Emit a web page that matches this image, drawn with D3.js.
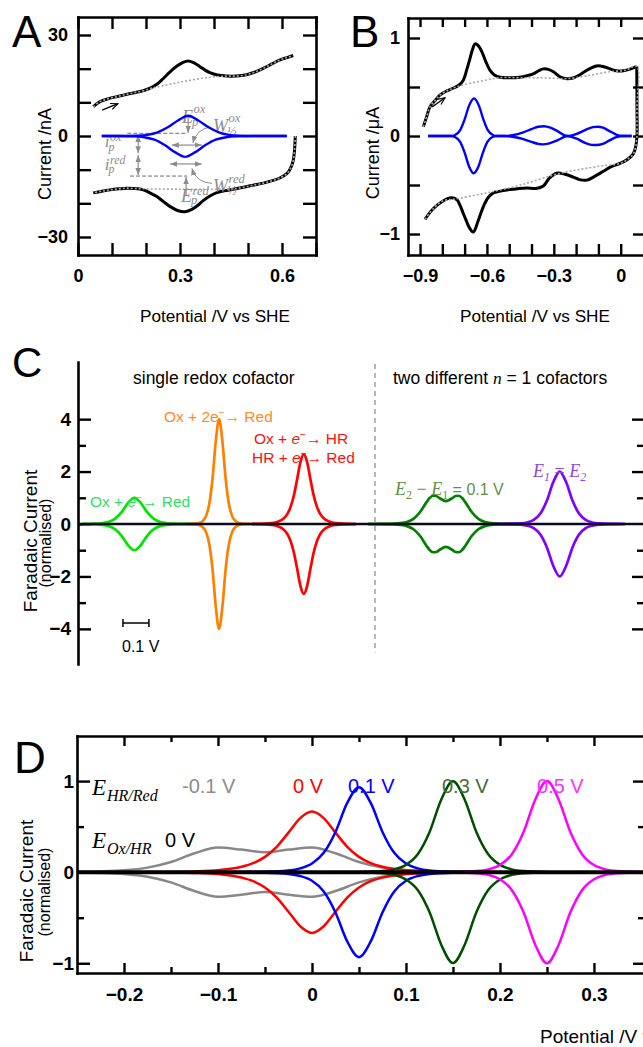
<!DOCTYPE html>
<html>
<head>
<meta charset="utf-8">
<script src="https://cdn.jsdelivr.net/npm/d3@7"></script>
<style>
body { margin: 0; background: #fff; }
svg { display: block; }
</style>
</head>
<body>
<script>
/******* DATA *******/
// A: protein film voltammogram (V, nA)
var aForward = [[0.045,8.7],[0.065,10.2],[0.09,11.1],[0.114,11.7],[0.14,12.3],[0.162,12.8],[0.19,13.4],[0.212,14.2],[0.235,15.6],[0.25,17.0],[0.27,19.0],[0.29,20.7],[0.308,21.8],[0.324,22.3],[0.34,21.8],[0.359,20.6],[0.375,19.5],[0.388,18.8],[0.41,18.1],[0.437,17.8],[0.465,17.8],[0.496,18.2],[0.52,19.0],[0.545,20.1],[0.57,21.4],[0.594,22.6],[0.615,23.3],[0.633,23.9]];
var aReverse = [[0.639,0],[0.637,-4],[0.633,-7.3],[0.624,-9.8],[0.614,-11.2],[0.595,-12.4],[0.574,-13.2],[0.545,-14.0],[0.516,-14.6],[0.487,-15.2],[0.457,-15.8],[0.43,-16.3],[0.408,-16.8],[0.388,-17.8],[0.368,-19.2],[0.35,-20.8],[0.335,-21.8],[0.315,-22.5],[0.295,-22.2],[0.27,-20.9],[0.25,-19.4],[0.232,-18.0],[0.21,-16.8],[0.192,-16.0],[0.165,-15.6],[0.143,-15.5],[0.12,-15.7],[0.094,-16.0],[0.07,-16.4],[0.045,-16.9]];
var aBaseFwd = [[0.045,8.7],[0.065,10.2],[0.09,11.1],[0.114,11.7],[0.14,12.3],[0.162,12.8],[0.19,13.4],[0.212,14.1],[0.231,14.5],[0.3,16.0],[0.378,17.3],[0.437,17.8],[0.465,17.8],[0.496,18.2],[0.52,19.0],[0.545,20.1],[0.57,21.4],[0.594,22.6],[0.615,23.3],[0.633,23.9]];
var aBaseRev = [[0.639,0],[0.637,-4],[0.633,-7.3],[0.624,-9.8],[0.614,-11.2],[0.595,-12.4],[0.574,-13.2],[0.545,-14.0],[0.516,-14.6],[0.487,-15.2],[0.457,-15.7],[0.4,-15.8],[0.3,-15.8],[0.2,-15.7],[0.165,-15.6],[0.143,-15.5],[0.12,-15.7],[0.094,-16.0],[0.07,-16.4],[0.045,-16.9]];
var aSignalOx = [[0.07,0],[0.124,0],[0.174,0.08],[0.204,0.35],[0.234,1.1],[0.264,2.6],[0.294,4.6],[0.324,6.0],[0.354,4.6],[0.384,2.6],[0.414,1.1],[0.444,0.35],[0.474,0.08],[0.524,0],[0.614,0]];
var aSignalRed = [[0.07,0],[0.115,0],[0.165,-0.08],[0.195,-0.36],[0.225,-1.1],[0.255,-2.7],[0.285,-4.8],[0.315,-6.2],[0.345,-4.8],[0.375,-2.7],[0.405,-1.1],[0.435,-0.36],[0.465,-0.08],[0.515,0],[0.614,0]];

// B: multi-centre enzyme film (V, uA)
var bForward = [[-0.885,0.095],[-0.87,0.2],[-0.855,0.30],[-0.83,0.37],[-0.81,0.42],[-0.78,0.46],[-0.75,0.49],[-0.725,0.52],[-0.706,0.57],[-0.69,0.68],[-0.676,0.79],[-0.665,0.88],[-0.653,0.94],[-0.638,0.92],[-0.623,0.86],[-0.605,0.76],[-0.586,0.67],[-0.565,0.62],[-0.541,0.60],[-0.5,0.595],[-0.452,0.60],[-0.42,0.615],[-0.392,0.635],[-0.365,0.67],[-0.347,0.685],[-0.325,0.68],[-0.302,0.655],[-0.27,0.60],[-0.242,0.585],[-0.21,0.595],[-0.183,0.625],[-0.145,0.68],[-0.108,0.715],[-0.08,0.71],[-0.048,0.685],[-0.02,0.665],[0.012,0.665],[0.045,0.685],[0.072,0.71]];
var bReverse = [[0.072,0.71],[0.073,0.3],[0.073,0],[0.068,-0.1],[0.057,-0.18],[0.03,-0.24],[-0.003,-0.28],[-0.04,-0.31],[-0.078,-0.36],[-0.115,-0.41],[-0.152,-0.45],[-0.185,-0.445],[-0.212,-0.42],[-0.25,-0.39],[-0.287,-0.38],[-0.32,-0.43],[-0.347,-0.51],[-0.38,-0.535],[-0.422,-0.53],[-0.47,-0.54],[-0.511,-0.55],[-0.545,-0.565],[-0.571,-0.58],[-0.595,-0.63],[-0.616,-0.72],[-0.64,-0.87],[-0.661,-0.98],[-0.68,-0.93],[-0.695,-0.85],[-0.706,-0.79],[-0.72,-0.71],[-0.735,-0.65],[-0.76,-0.63],[-0.795,-0.66],[-0.84,-0.74],[-0.878,-0.85]];
var bBaseFwd = [[-0.885,0.095],[-0.87,0.2],[-0.855,0.30],[-0.83,0.37],[-0.81,0.42],[-0.78,0.46],[-0.75,0.49],[-0.7,0.525],[-0.6,0.572],[-0.541,0.595],[-0.45,0.595],[-0.3,0.59],[-0.242,0.585],[-0.15,0.615],[-0.05,0.655],[0.02,0.67],[0.072,0.71],[0.073,0.3],[0.073,0]];
var bBaseRev = [[0.073,0],[0.068,-0.1],[0.057,-0.18],[0.03,-0.24],[-0.003,-0.28],[-0.1,-0.31],[-0.27,-0.38],[-0.45,-0.5],[-0.6,-0.58],[-0.75,-0.645],[-0.795,-0.66],[-0.84,-0.74],[-0.878,-0.85]];
var bSignalOx = [[-0.864,0],[-0.76,0],[-0.743,0.01],[-0.72,0.06],[-0.70,0.17],[-0.68,0.31],[-0.658,0.384],[-0.636,0.31],[-0.616,0.17],[-0.596,0.06],[-0.573,0.01],[-0.556,0],[-0.52,0],[-0.48,0.01],[-0.44,0.035],[-0.40,0.07],[-0.37,0.095],[-0.344,0.10],[-0.315,0.085],[-0.28,0.045],[-0.24,0],[-0.2,0.02],[-0.16,0.06],[-0.125,0.09],[-0.102,0.095],[-0.08,0.085],[-0.05,0.05],[-0.02,0.015],[0,0.002],[0.049,0]];
var bSignalRed = [[-0.864,0],[-0.76,0],[-0.743,-0.01],[-0.72,-0.06],[-0.70,-0.17],[-0.68,-0.31],[-0.66,-0.38],[-0.638,-0.31],[-0.618,-0.17],[-0.598,-0.06],[-0.575,-0.01],[-0.556,0],[-0.52,0],[-0.48,-0.01],[-0.44,-0.03],[-0.40,-0.06],[-0.37,-0.08],[-0.35,-0.085],[-0.32,-0.075],[-0.28,-0.04],[-0.24,0],[-0.2,-0.025],[-0.16,-0.07],[-0.13,-0.09],[-0.11,-0.092],[-0.08,-0.08],[-0.05,-0.045],[-0.02,-0.012],[0,-0.002],[0.049,0]];

// C: simulated peaks, [offset from centre /V, normalised current]; reductive half mirrors these
var cCentres = [0.217, 0.543, 0.869, 1.416, 1.854];
var cGreen = [[-0.2,0.002],[-0.15,0.012],[-0.125,0.03],[-0.1,0.078],[-0.075,0.195],[-0.05,0.44],[-0.025,0.8],[0,1],[0.025,0.8],[0.05,0.44],[0.075,0.195],[0.1,0.078],[0.125,0.03],[0.15,0.012],[0.2,0.002],[0.25,0]];
var cOrange = [[-0.125,0],[-0.1,0.006],[-0.075,0.046],[-0.0625,0.12],[-0.05,0.31],[-0.0375,0.78],[-0.025,1.75],[-0.0125,3.18],[0,4],[0.0125,3.18],[0.025,1.75],[0.0375,0.78],[0.05,0.31],[0.0625,0.12],[0.075,0.046],[0.1,0.006],[0.125,0]];
var cRed = [[-0.2,0.001],[-0.15,0.012],[-0.125,0.031],[-0.1,0.085],[-0.075,0.236],[-0.0625,0.398],[-0.05,0.672],[-0.0375,1.114],[-0.025,1.736],[-0.0125,2.376],[0,2.667],[0.0125,2.376],[0.025,1.736],[0.0375,1.114],[0.05,0.672],[0.0625,0.398],[0.075,0.236],[0.1,0.085],[0.125,0.031],[0.15,0.012],[0.2,0.001]];
var cDkGreen = [[-0.3,0],[-0.25,0.002],[-0.2,0.012],[-0.175,0.031],[-0.15,0.08],[-0.125,0.199],[-0.1,0.449],[-0.075,0.826],[-0.0625,0.992],[-0.05,1.078],[-0.0375,1.067],[-0.025,0.991],[0,0.875],[0.025,0.991],[0.0375,1.067],[0.05,1.078],[0.0625,0.992],[0.075,0.826],[0.1,0.449],[0.125,0.199],[0.15,0.08],[0.175,0.031],[0.2,0.012],[0.25,0.002],[0.3,0]];
var cPurple = [[-0.25,0],[-0.2,0.003],[-0.15,0.023],[-0.125,0.06],[-0.1,0.156],[-0.075,0.39],[-0.05,0.875],[-0.025,1.59],[0,2],[0.025,1.59],[0.05,0.875],[0.075,0.39],[0.1,0.156],[0.125,0.06],[0.15,0.023],[0.2,0.003],[0.25,0]];

// D: two-step couple, E(Ox/HR) = 0 V, E(HR/Red) varied; [V, normalised current]
var dLabels = ["-0.1 V", "0 V", "0.1 V", "0.3 V", "0.5 V"];
var dGrey = [[-0.25,0.003],[-0.225,0.008],[-0.2,0.02],[-0.175,0.05],[-0.15,0.112],[-0.125,0.207],[-0.1,0.27],[-0.075,0.248],[-0.05,0.219],[-0.025,0.248],[0,0.27],[0.025,0.207],[0.05,0.112],[0.075,0.05],[0.1,0.02],[0.125,0.008],[0.15,0.003],[0.2,0]];
var dRed = [[-0.2,0],[-0.15,0.003],[-0.125,0.008],[-0.1,0.021],[-0.075,0.059],[-0.0625,0.099],[-0.05,0.168],[-0.0375,0.279],[-0.025,0.434],[-0.0125,0.594],[0,0.667],[0.0125,0.594],[0.025,0.434],[0.0375,0.279],[0.05,0.168],[0.0625,0.099],[0.075,0.059],[0.1,0.021],[0.125,0.008],[0.15,0.003],[0.2,0]];
var dBlue = [[-0.1,0],[-0.05,0.005],[-0.025,0.019],[-0.0125,0.042],[0,0.095],[0.0125,0.212],[0.025,0.442],[0.0375,0.76],[0.05,0.933],[0.0625,0.76],[0.075,0.442],[0.0875,0.212],[0.1,0.095],[0.1125,0.042],[0.125,0.019],[0.15,0.005],[0.2,0]];
var dDkGreen = [[0.05,0.002],[0.075,0.012],[0.0875,0.03],[0.1,0.08],[0.1125,0.196],[0.125,0.438],[0.1375,0.796],[0.15,0.998],[0.1625,0.796],[0.175,0.438],[0.1875,0.196],[0.2,0.08],[0.2125,0.03],[0.225,0.012],[0.25,0.002]];
var dMagenta = [[0.15,0.002],[0.175,0.012],[0.1875,0.03],[0.2,0.078],[0.2125,0.195],[0.225,0.438],[0.2375,0.796],[0.25,1.0],[0.2625,0.796],[0.275,0.438],[0.2875,0.195],[0.3,0.078],[0.3125,0.03],[0.325,0.012],[0.35,0.002]];

/******* SETUP *******/
var SANS = '"Liberation Sans", Arial, Helvetica, sans-serif';
var SERIF = '"Liberation Serif", "Times New Roman", serif';
var fmt = d3.format(".1~f");

var svg = d3.select("body").append("svg")
    .attr("width", 643)
    .attr("height", 1047)
    .attr("font-family", SANS);

var defs = svg.append("defs");
function marker(id, colour, open) {
  defs.append("marker")
      .attr("id", id)
      .attr("viewBox", "0 0 10 10")
      .attr("refX", open ? 9 : 10).attr("refY", 5)
      .attr("markerUnits", "userSpaceOnUse")
      .attr("markerWidth", open ? 9 : 7).attr("markerHeight", open ? 9 : 7)
      .attr("orient", "auto-start-reverse")
    .append("path")
      .attr("d", open ? "M1,1.5 L9,5 L1,8.5" : "M0,1 L10,5 L0,9 Z")
      .attr("fill", open ? "none" : colour)
      .attr("stroke", colour)
      .attr("stroke-width", open ? 1.3 : 0);
}
marker("ahGrey", "#8c8c8c", false);
marker("ahBlack", "#000", true);

// inward ticks; labels only on the listed values
function ax(g, gen, tr, vals, size, labels, pad, fs, keepDomain) {
  var a = g.append("g").attr("transform", tr)
      .call(gen.tickValues(vals).tickSizeInner(size).tickSizeOuter(0).tickPadding(pad)
        .tickFormat(function(d) {
          return labels && labels.some(function(v) { return Math.abs(v - d) < 1e-6; }) ? fmt(d) : "";
        }));
  a.attr("font-family", SANS).attr("font-size", fs).attr("font-weight", "bold");
  a.selectAll(".tick line").attr("stroke-width", 2.4);
  a.selectAll(".tick text").attr("fill", "#000");
  if (keepDomain) a.select(".domain").attr("stroke-width", 2.6).attr("stroke-linecap", "square");
  else a.select(".domain").remove();
  return a;
}

function label(g, x, y, txt, fs, opts) {
  opts = opts || {};
  var t = g.append("text").attr("x", x).attr("y", y).attr("font-size", fs)
      .attr("fill", opts.fill || "#000").text(txt);
  if (opts.rotate) t.attr("transform", "rotate(-90," + x + "," + y + ")").attr("text-anchor", "middle");
  if (opts.anchor) t.attr("text-anchor", opts.anchor);
  if (opts.weight) t.attr("font-weight", opts.weight);
  return t;
}

// italic symbol with super- and subscript
function sym(g, x, y, base, sup, sub, fs, colour, supDy, subDy) {
  var t = g.append("text").attr("x", x).attr("y", y)
      .attr("font-family", SERIF).attr("font-style", "italic")
      .attr("font-size", fs).attr("fill", colour).text(base);
  var w = t.node().getComputedTextLength();
  if (sup) g.append("text").attr("x", x + w + 0.5).attr("y", y + supDy)
      .attr("font-family", SERIF).attr("font-style", "italic")
      .attr("font-size", fs * 0.7).attr("fill", colour).text(sup);
  if (sub) g.append("text").attr("x", x + w - 1).attr("y", y + subDy)
      .attr("font-family", SERIF).attr("font-style", "italic")
      .attr("font-size", fs * 0.7).attr("fill", colour).text(sub);
}

/******* PANEL A *******/
var xA = d3.scaleLinear().domain([0, 0.7]).range([78, 316]);
var yA = d3.scaleLinear().domain([-35.35, 35.35]).range([255, 17]);
var gA = svg.append("g");
var lineA = d3.line().x(function(d) { return xA(d[0]); }).y(function(d) { return yA(d[1]); })
    .curve(d3.curveCatmullRom.alpha(0.5));
var peakA = d3.line().x(function(d) { return xA(d[0]); }).y(function(d) { return yA(d[1]); })
    .curve(d3.curveMonotoneX);

var aXT = d3.range(0, 0.75, 0.1), aYT = d3.range(-30, 31, 10);
ax(gA, d3.axisBottom(xA), "translate(0,255)", aXT, -12, [0, 0.3, 0.6], 14, 18, true);
ax(gA, d3.axisTop(xA), "translate(0,17)", aXT, -12, null, 0, 18, true);
ax(gA, d3.axisLeft(yA), "translate(78,0)", aYT, -13, [-30, 0, 30], 10, 18, true);
ax(gA, d3.axisRight(yA), "translate(316,0)", aYT, -13, null, 0, 18, true);

[aForward, aReverse].forEach(function(s) {
  gA.append("path").datum(s).attr("d", lineA).attr("fill", "none").attr("stroke", "#000").attr("stroke-width", 3);
});
[aBaseFwd, aBaseRev].forEach(function(s) {
  gA.append("path").datum(s).attr("d", lineA).attr("fill", "none").attr("stroke", "#a8a8a8")
    .attr("stroke-width", 1.6).attr("stroke-dasharray", "2,2");
});

// annotations
var grey = "#8c8c8c";
function gline(g, x1, y1, x2, y2, dash, both) {
  var l = g.append("line").attr("x1", x1).attr("y1", y1).attr("x2", x2).attr("y2", y2)
      .attr("stroke", grey).attr("stroke-width", 1.2);
  if (dash) l.attr("stroke-dasharray", "4,2").attr("stroke", "#707070").attr("stroke-width", 1);
  else {
    l.attr("marker-end", "url(#ahGrey)");
    if (both) l.attr("marker-start", "url(#ahGrey)");
  }
}
gline(gA, xA(0.145), yA(0.8), xA(0.322), yA(0.8), true);
gline(gA, xA(0.153), yA(-11.9), xA(0.321), yA(-11.9), true);
gline(gA, xA(0.324), yA(5.8), xA(0.324), yA(1.0));
gline(gA, xA(0.318), yA(-17.5), xA(0.318), yA(-12.2));
gline(gA, xA(0.276), yA(-2.7), xA(0.364), yA(-2.7), false, true);
gline(gA, xA(0.271), yA(-8.3), xA(0.364), yA(-8.3), false, true);
gline(gA, xA(0.177), yA(0.3), xA(0.177), yA(-5.1), false, true);
gline(gA, xA(0.177), yA(-5.7), xA(0.177), yA(-11.6), false, true);
gA.append("path")
    .attr("d", "M" + xA(0.388) + "," + yA(2.7) + " Q" + xA(0.347) + "," + yA(1.8) + " " + xA(0.338) + "," + yA(-2.1))
    .attr("fill", "none").attr("stroke", grey).attr("stroke-width", 1).attr("marker-end", "url(#ahGrey)");
gA.append("path")
    .attr("d", "M" + xA(0.394) + "," + yA(-14.1) + " Q" + xA(0.347) + "," + yA(-13.8) + " " + xA(0.335) + "," + yA(-9.6))
    .attr("fill", "none").attr("stroke", grey).attr("stroke-width", 1).attr("marker-end", "url(#ahGrey)");
sym(gA, xA(0.306), yA(3.95), "E", "ox", "p", 18, grey, -10, 3);
sym(gA, xA(0.397), yA(1.19), "W", "ox", "\u00bd", 18, grey, -10, 4);
sym(gA, xA(0.079), yA(-3.27), "i", "ox", "p", 17, grey, -6, 4);
sym(gA, xA(0.079), yA(-10.1), "i", "red", "p", 17, grey, -6, 3);
sym(gA, xA(0.397), yA(-16.6), "W", "red", "\u00bd", 18, grey, -9, 3);
sym(gA, xA(0.303), yA(-19.6), "E", "red", "p", 18, grey, -7, 2);

[aSignalOx, aSignalRed].forEach(function(s) {
  gA.append("path").datum(s).attr("d", peakA).attr("fill", "none").attr("stroke", "#0000ff").attr("stroke-width", 2.4);
});
gA.append("line").attr("x1", xA(0.071)).attr("y1", yA(7.7)).attr("x2", xA(0.117)).attr("y2", yA(9.6))
    .attr("stroke", "#000").attr("stroke-width", 1.4).attr("marker-end", "url(#ahBlack)");

label(gA, 12, 47, "A", 44);
label(gA, 51, 154, "Current /nA", 18, { rotate: true });
label(gA, 140, 322, "Potential /V vs SHE", 17.2);

/******* PANEL B *******/
var xB = d3.scaleLinear().domain([-0.954, 0.109]).range([408, 645]);
var yB = d3.scaleLinear().domain([-1.214, 1.204]).range([255, 18]);
var gB = svg.append("g");
var lineB = d3.line().x(function(d) { return xB(d[0]); }).y(function(d) { return yB(d[1]); })
    .curve(d3.curveCatmullRom.alpha(0.5));
var peakB = d3.line().x(function(d) { return xB(d[0]); }).y(function(d) { return yB(d[1]); })
    .curve(d3.curveMonotoneX);

var bXT = d3.range(-0.9, 0.05, 0.1), bYT = [-1, -0.5, 0, 0.5, 1];
ax(gB, d3.axisBottom(xB), "translate(0,255)", bXT, -11, [-0.9, -0.6, -0.3, 0], 14, 18, true);
ax(gB, d3.axisTop(xB), "translate(0,18)", bXT, -9, null, 0, 18, true);
ax(gB, d3.axisLeft(yB), "translate(408,0)", bYT, -12, [-1, 0, 1], 8, 18, true);
ax(gB, d3.axisRight(yB), "translate(645,0)", bYT, -12, null, 0, 18, true);

[bForward, bReverse].forEach(function(s) {
  gB.append("path").datum(s).attr("d", lineB).attr("fill", "none").attr("stroke", "#000").attr("stroke-width", 3);
});
[bBaseFwd, bBaseRev].forEach(function(s) {
  gB.append("path").datum(s).attr("d", lineB).attr("fill", "none").attr("stroke", "#a8a8a8")
    .attr("stroke-width", 1.6).attr("stroke-dasharray", "2,2");
});
[bSignalOx, bSignalRed].forEach(function(s) {
  gB.append("path").datum(s).attr("d", peakB).attr("fill", "none").attr("stroke", "#0000ff").attr("stroke-width", 2.4);
});
gB.append("line").attr("x1", xB(-0.846)).attr("y1", yB(0.296)).attr("x2", xB(-0.788)).attr("y2", yB(0.39))
    .attr("stroke", "#000").attr("stroke-width", 1.4).attr("marker-end", "url(#ahBlack)");

label(gB, 350, 47, "B", 44);
label(gB, 379, 153, "Current /\u03bcA", 18, { rotate: true });
label(gB, 460, 322, "Potential /V vs SHE", 17.2);

/******* PANEL C *******/
var xC = d3.scaleLinear().domain([0, 2.19]).range([78, 647]);
var yC = d3.scaleLinear().domain([-5.34, 6.18]).range([664, 362]);
var gC = svg.append("g");

ax(gC, d3.axisLeft(yC), "translate(78,0)", [-4, -2, 0, 2, 4], -13, [-4, -2, 0, 2, 4], 7, 19, true);
ax(gC, d3.axisLeft(yC), "translate(78,0)", [-3, -1, 1, 3], -8, null, 7, 19, false);
ax(gC, d3.axisRight(yC), "translate(644,0)", [-4, -2, 2, 4], -12, null, 0, 19, false);
ax(gC, d3.axisRight(yC), "translate(644,0)", [-3, -1, 1, 3], -7, null, 0, 19, false);

gC.append("line").attr("x1", 375).attr("x2", 375).attr("y1", yC(6.1)).attr("y2", yC(-4.9))
    .attr("stroke", "#a0a0a0").attr("stroke-width", 1.5).attr("stroke-dasharray", "5,4");

var cCurves = [cGreen, cOrange, cRed, cDkGreen, cPurple];
var cColours = ["#00e400", "#ff8000", "#ff0000", "#008000", "#8000ff"];
cCurves.forEach(function(s, i) {
  [1, -1].forEach(function(sign) {
    gC.append("path").datum(s)
        .attr("d", d3.line()
          .x(function(d) { return xC(cCentres[i] + d[0]); })
          .y(function(d) { return yC(sign * d[1]); })
          .curve(d3.curveMonotoneX))
        .attr("fill", "none").attr("stroke", cColours[i]).attr("stroke-width", 2.7);
  });
});
gC.append("line").attr("x1", 78).attr("x2", 643).attr("y1", yC(0)).attr("y2", yC(0))
    .attr("stroke", "#0a0a1e").attr("stroke-width", 2.6);

// scale bar
var sb = gC.append("g").attr("stroke", "#000").attr("stroke-width", 1.5);
sb.append("line").attr("x1", xC(0.173)).attr("x2", xC(0.273)).attr("y1", 623).attr("y2", 623);
sb.append("line").attr("x1", xC(0.173)).attr("x2", xC(0.173)).attr("y1", 619).attr("y2", 627);
sb.append("line").attr("x1", xC(0.273)).attr("x2", xC(0.273)).attr("y1", 619).attr("y2", 627);
label(gC, 122, 652, "0.1 V", 16);

label(gC, 12, 377, "C", 42);
label(gC, 37, 541, "Faradaic Current", 19, { rotate: true });
label(gC, 51, 543, "(normalised)", 16, { rotate: true });
label(gC, 133, 384, "single redox cofactor", 17.5);

var t2 = gC.append("text").attr("x", 393).attr("y", 384).attr("font-size", 17.5);
t2.append("tspan").text("two different ");
t2.append("tspan").attr("font-family", SERIF).attr("font-style", "italic").text("n");
t2.append("tspan").text(" = 1 cofactors");

function reaction(x, y, parts, colour) {
  var t = gC.append("text").attr("x", x).attr("y", y).attr("font-size", 15.5).attr("fill", colour);
  parts.forEach(function(p) {
    var s = t.append("tspan").text(p[0]);
    if (p[1] === "i") s.attr("font-style", "italic");
    if (p[1] === "sup") s.attr("font-size", 10).attr("dy", -6);
    if (p[1] === "down") s.attr("dy", 6);
  });
}
reaction(90, 507, [["Ox + "], ["e", "i"], ["\u2212", "sup"], ["\u2192 Red", "down"]], "#30e060");
reaction(164, 422, [["Ox + 2e"], ["\u2212", "sup"], ["\u2192 Red", "down"]], "#ff8a2a");
reaction(254, 444, [["Ox + "], ["e", "i"], ["\u2212", "sup"], ["\u2192 HR", "down"]], "#ff1010");
reaction(252, 463, [["HR + "], ["e", "i"], ["\u2212", "sup"], ["\u2192 Red", "down"]], "#ff1010");

var tE = gC.append("text").attr("x", 395).attr("y", 495).attr("font-size", 16).attr("fill", "#5f8f48");
tE.append("tspan").attr("font-family", SERIF).attr("font-style", "italic").attr("font-size", 18).text("E");
tE.append("tspan").attr("font-family", SERIF).attr("font-size", 12).attr("dy", 4).text("2");
tE.append("tspan").attr("font-family", SERIF).attr("font-size", 18).attr("dy", -4).text(" \u2212 ");
tE.append("tspan").attr("font-family", SERIF).attr("font-style", "italic").attr("font-size", 18).text("E");
tE.append("tspan").attr("font-family", SERIF).attr("font-size", 12).attr("dy", 4).text("1");
tE.append("tspan").attr("dy", -4).text(" = 0.1 V");

var tP = gC.append("text").attr("x", 533).attr("y", 477).attr("font-size", 18).attr("fill", "#8a4ad8")
    .attr("font-family", SERIF).attr("font-style", "italic");
tP.append("tspan").text("E");
tP.append("tspan").attr("font-size", 12).attr("dy", 4).text("1");
tP.append("tspan").attr("dy", -4).attr("font-style", "normal").text(" = ");
tP.append("tspan").text("E");
tP.append("tspan").attr("font-size", 12).attr("dy", 4).text("2");

/******* PANEL D *******/
var xD = d3.scaleLinear().domain([-0.25, 0.3543]).range([77, 645]);
var yD = d3.scaleLinear().domain([-1.107, 1.495]).range([973, 736]);
var gD = svg.append("g");

var dMaj = [-0.2, -0.1, 0, 0.1, 0.2, 0.3], dMin = [-0.15, -0.05, 0.05, 0.15, 0.25];
ax(gD, d3.axisBottom(xD), "translate(0,973)", dMaj, -10, dMaj, 14.5, 19, true);
ax(gD, d3.axisBottom(xD), "translate(0,973)", dMin, -6, null, 0, 19, false);
ax(gD, d3.axisTop(xD), "translate(0,736)", dMaj, -10, null, 0, 19, true);
ax(gD, d3.axisTop(xD), "translate(0,736)", dMin, -6, null, 0, 19, false);
ax(gD, d3.axisLeft(yD), "translate(77,0)", [-1, 0, 1], -13, [-1, 0, 1], 3, 19, true);
ax(gD, d3.axisLeft(yD), "translate(77,0)", [-0.5, 0.5], -7, null, 0, 19, false);
ax(gD, d3.axisRight(yD), "translate(645,0)", [-1, 0, 1], -12, null, 0, 19, true);
ax(gD, d3.axisRight(yD), "translate(645,0)", [-0.5, 0.5], -7, null, 0, 19, false);

var dCurves = [dGrey, dRed, dBlue, dDkGreen, dMagenta];
var dColours = ["#888888", "#ff0000", "#0000ff", "#004d00", "#ff00ff"];
dCurves.forEach(function(s, i) {
  [1, -1].forEach(function(sign) {
    gD.append("path").datum(s)
        .attr("d", d3.line()
          .x(function(d) { return xD(d[0]); })
          .y(function(d) { return yD(sign * d[1]); })
          .curve(d3.curveMonotoneX))
        .attr("fill", "none").attr("stroke", dColours[i]).attr("stroke-width", 2.5);
  });
});
gD.append("line").attr("x1", 77).attr("x2", 643).attr("y1", yD(0)).attr("y2", yD(0))
    .attr("stroke", "#000").attr("stroke-width", 4);

var dLabelX = [182, 293, 348, 442, 537];
var dLabelFill = ["#8c8c8c", "#ff0000", "#0000ff", "#4a6a3e", "#ff33ff"];
dLabels.forEach(function(t, i) {
  label(gD, dLabelX[i], 793, t, 20, { fill: dLabelFill[i] });
});
sym(gD, 92, 795, "E", null, null, 23, "#000");
gD.append("text").attr("x", 107).attr("y", 801).attr("font-family", SERIF).attr("font-style", "italic")
    .attr("font-size", 16).text("HR/Red");
sym(gD, 92, 848, "E", null, null, 23, "#000");
gD.append("text").attr("x", 107).attr("y", 854).attr("font-family", SERIF).attr("font-style", "italic")
    .attr("font-size", 16).text("Ox/HR");
label(gD, 165, 847, "0 V", 20);

label(gD, 14, 773, "D", 44);
label(gD, 33, 891, "Faradaic Current", 19, { rotate: true });
label(gD, 50, 892, "(normalised)", 16, { rotate: true });
label(gD, 540, 1043, "Potential /V vs SHE", 19);
</script>
</body>
</html>
